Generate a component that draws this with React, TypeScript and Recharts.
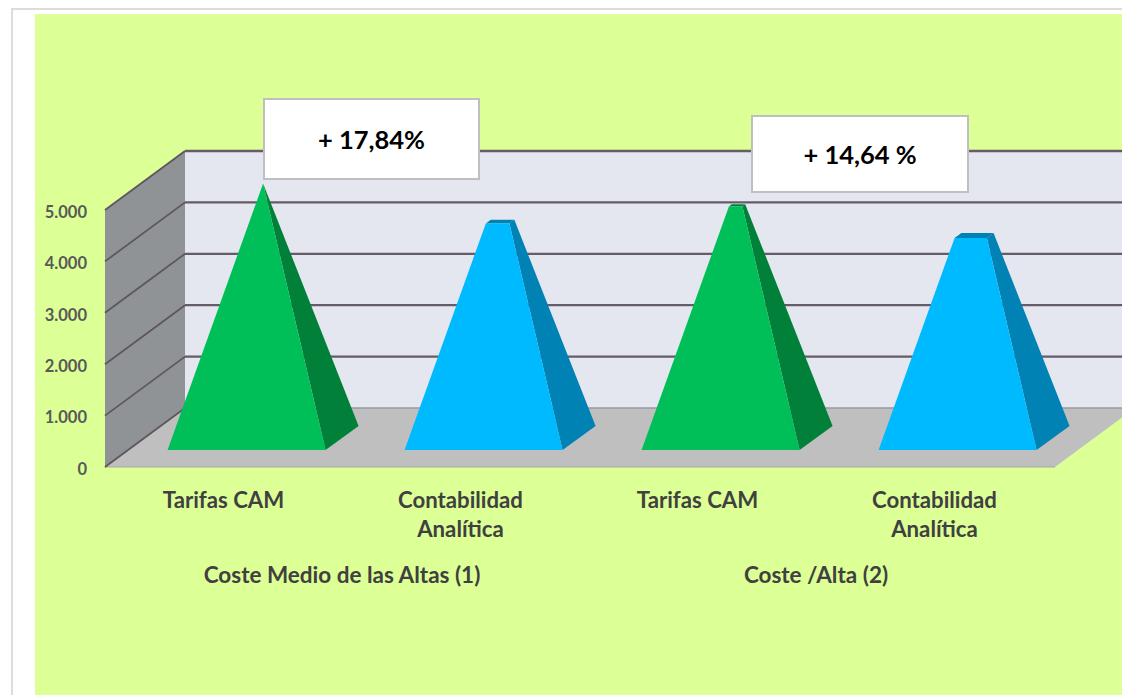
import { Bar, BarChart, CartesianGrid, XAxis, YAxis } from "recharts";

const categories = ["Tarifas CAM", "Contabilidad\nAnalítica", "Tarifas CAM", "Contabilidad\nAnalítica"];
const groups = ["Coste Medio de las Altas (1)", "Coste Medio de las Altas (1)", "Coste /Alta (2)", "Coste /Alta (2)"];
const costs = [4950, 4210, 4530, 3940];
const yTicks = [0, 1000, 2000, 3000, 4000, 5000];
const faceColors = ["#00bf58", "#00baff", "#00bf58", "#00baff"];
const sideColors = ["#008038", "#0082b5", "#008038", "#0082b5"];

const data = categories.map((category, i) => ({ category, group: groups[i], cost: costs[i] }));
const maxCost = Math.max(...costs);

// fake 3D: depth of the walls and of the pyramids, in px
const WALL_DX = 80;
const WALL_DY = 59;
const BAR_SHIFT_X = 23;
const BAR_SHIFT_Y = 17;
const BAR_DX = 33;
const BAR_DY = 24;

const LEFT = 105;
const RIGHT = 1053;
const FLOOR_RIGHT = 1055;
const TOP = 210;
const BOTTOM = 467;

const FONT = "Lato, Carlito, sans-serif";

function Pyramid(props: any) {
  const { x, y, width, height, index } = props;
  const yFront = y + height - BAR_SHIFT_Y;
  const xLeft = x + BAR_SHIFT_X;
  const fullHeight = height * (maxCost / costs[index]);
  const apex = [xLeft + width / 2 + BAR_DX / 2, yFront - BAR_DY / 2 - fullHeight];
  const t = height / fullHeight;
  const up = (p: number[]) => [p[0] + (apex[0] - p[0]) * t, p[1] + (apex[1] - p[1]) * t];
  const pts = (list: number[][]) => list.map((p) => p.join(",")).join(" ");

  const a = [xLeft, yFront];
  const b = [xLeft + width, yFront];
  const c = [xLeft + width + BAR_DX, yFront - BAR_DY];
  const d = [xLeft + BAR_DX, yFront - BAR_DY];

  return (
    <g>
      <polygon points={pts([up(a), up(b), up(c), up(d)])} fill={sideColors[index]} />
      <polygon points={pts([b, c, up(c), up(b)])} fill={sideColors[index]} />
      <polygon points={pts([a, b, up(b), up(a)])} fill={faceColors[index]} />
    </g>
  );
}

function Walls() {
  return (
    <g>
      <polygon
        points={`${LEFT + WALL_DX},${TOP - WALL_DY} ${FLOOR_RIGHT + WALL_DX},${TOP - WALL_DY} ${FLOOR_RIGHT + WALL_DX},${BOTTOM - WALL_DY + 1} ${LEFT + WALL_DX},${BOTTOM - WALL_DY + 1}`}
        fill="#e4e7ef"
      />
      <polygon
        points={`${LEFT},${TOP} ${LEFT + WALL_DX},${TOP - WALL_DY} ${LEFT + WALL_DX},${BOTTOM - WALL_DY} ${LEFT},${BOTTOM}`}
        fill="#909396"
      />
      <polygon
        points={`${LEFT},${BOTTOM} ${LEFT + WALL_DX},${BOTTOM - WALL_DY} ${FLOOR_RIGHT + WALL_DX},${BOTTOM - WALL_DY} ${FLOOR_RIGHT},${BOTTOM}`}
        fill="#bfbfbf"
      />
      <line x1={LEFT} y1={BOTTOM} x2={FLOOR_RIGHT} y2={BOTTOM} stroke="#a6a6a6" strokeWidth={1} />
    </g>
  );
}

// each horizontal grid line runs along the side wall and then along the back wall
function WallLine(props: any) {
  const { x1, y1, x2, index } = props;
  const isFloor = Math.abs(y1 - BOTTOM) < 1;
  return (
    <g>
      {index === 0 && <Walls />}
      <line x1={x1} y1={y1} x2={x1 + WALL_DX} y2={y1 - WALL_DY} stroke="#5f5560" strokeWidth={1.8} />
      <line
        x1={x1 + WALL_DX}
        y1={y1 - WALL_DY}
        x2={x2 + WALL_DX + 2}
        y2={y1 - WALL_DY}
        stroke={isFloor ? "#9a98a4" : "#655c68"}
        strokeWidth={isFloor ? 1.5 : 2.3}
      />
    </g>
  );
}

function CategoryTick(props: any) {
  const { x, y, payload } = props;
  return (
    <text x={x} textAnchor="middle" fontFamily={FONT} fontWeight={700} fontSize={22.2} fill="#404040">
      {String(payload.value)
        .split("\n")
        .map((line, i) => (
          <tspan key={line} x={x} y={y + 33 + i * 29}>
            {line}
          </tspan>
        ))}
    </text>
  );
}

function GroupTick(props: any) {
  const { x, y, payload } = props;
  return (
    <text x={x} y={y + 23} textAnchor="middle" fontFamily={FONT} fontWeight={700} fontSize={22.5} fill="#404040">
      {payload.value}
    </text>
  );
}

function Note({ x, y, width, height, text }: { x: number; y: number; width: number; height: number; text: string }) {
  return (
    <g>
      <rect x={x} y={y} width={width} height={height} fill="#ffffff" stroke="#bfbfbf" strokeWidth={2} />
      <text
        x={x + width / 2}
        y={y + height / 2 + 10}
        textAnchor="middle"
        fontFamily={FONT}
        fontWeight={700}
        fontSize={25.5}
        fill="#000000"
      >
        {text}
      </text>
    </g>
  );
}

export default function App() {
  return (
    <div style={{ position: "absolute", left: 0, top: 0, width: 1122, height: 695, overflow: "hidden", background: "#ffffff" }}>
      <div style={{ position: "absolute", left: 11, top: 8, width: 1200, height: 800, border: "2px solid #dcdcdc" }} />
      <div style={{ position: "absolute", left: 35, top: 14, width: 1087, height: 681, background: "#dcff96" }} />
      <div style={{ position: "absolute", left: 0, top: 0 }}>
        <BarChart
          width={1122}
          height={695}
          data={data}
          margin={{ top: TOP, right: 1122 - RIGHT, bottom: 103, left: 45 }}
          barCategoryGap="16.7%"
        >
          <CartesianGrid vertical={false} horizontal={(p: any) => <WallLine {...p} />} />
          <XAxis dataKey="category" interval={0} height={85} tick={CategoryTick} tickLine={false} axisLine={false} />
          <XAxis
            xAxisId="group"
            dataKey="group"
            allowDuplicatedCategory={false}
            height={40}
            tick={GroupTick}
            tickLine={false}
            axisLine={false}
          />
          <YAxis
            width={60}
            domain={[0, 5000]}
            ticks={yTicks}
            interval={0}
            tickFormatter={(v: number) => v.toLocaleString("de-DE")}
            tick={{ fontFamily: FONT, fontWeight: 700, fontSize: 16.5, fill: "#595959", dy: 2 }}
            tickMargin={12}
            tickLine={false}
            axisLine={false}
          />
          <Bar dataKey="cost" shape={Pyramid} isAnimationActive={false} />
          <Note x={264} y={99} width={215} height={80} text="+ 17,84%" />
          <Note x={752} y={116} width={216} height={76} text="+ 14,64 %" />
        </BarChart>
      </div>
    </div>
  );
}
